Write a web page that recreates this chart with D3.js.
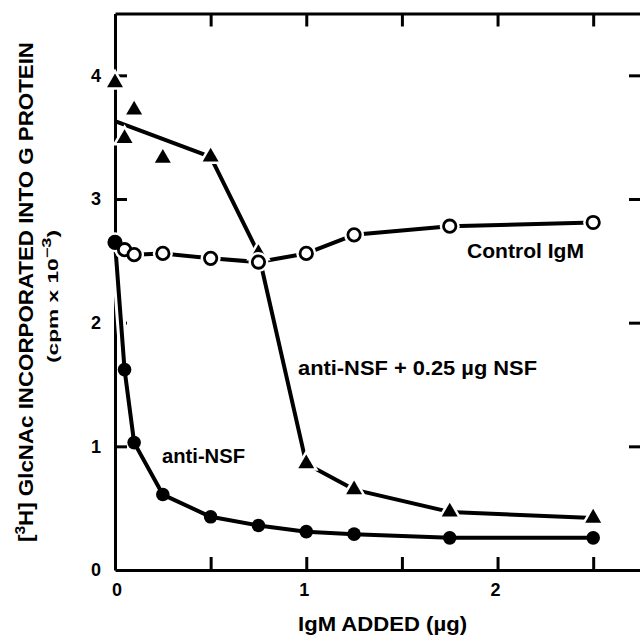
<!DOCTYPE html>
<html>
<head>
<meta charset="utf-8">
<script src="https://cdn.jsdelivr.net/npm/d3@7"></script>
<style>
  body { margin: 0; background: #fff; }
  svg { display: block; }
  text { font-family: "Liberation Sans", Arial, Helvetica, sans-serif; font-weight: bold; fill: #000; }
</style>
</head>
<body>
<div id="chart"></div>
<script>
// IgM added (ug)
const doses = [0, 0.05, 0.1, 0.25, 0.5, 0.75, 1, 1.25, 1.75, 2.5]
// [3H] GlcNAc incorporated, cpm x 10^-3
const controlIgM = [2.65, 2.59, 2.55, 2.56, 2.52, 2.49, 2.56, 2.71, 2.78, 2.81]
const antiNSF = [2.65, 1.62, 1.03, 0.61, 0.43, 0.36, 0.31, 0.29, 0.26, 0.26]
const antiNSFplusNSF = [3.94, 3.49, 3.72, 3.33, 3.34, 2.56, 0.86, 0.65, 0.47, 0.42]
// drawn curve for anti-NSF + NSF (starts at a fitted value at 0)
const nsfCurveDoses = [0, 0.5, 0.75, 1, 1.25, 1.75, 2.5]
const nsfCurve = [3.63, 3.34, 2.56, 0.86, 0.65, 0.47, 0.42]

const xTicks = [0.5, 1, 1.5, 2, 2.5]
const xLabels = [0, 1, 2]
const yTicks = [1, 2, 3, 4]
const yLabels = [0, 1, 2, 3, 4]

const W = 640, H = 638

const svg = d3.select('#chart').append('svg')
  .attr('width', W)
  .attr('height', H)

const x = d3.scaleLinear().domain([0, 2.75]).range([115, 641])
const y = d3.scaleLinear().domain([0, 4.5]).range([570, 13.5])

function styleAxis (g) {
  g.selectAll('path, line').attr('stroke', '#000').attr('stroke-width', 3)
  g.selectAll('text').remove()
}

// frame with inward ticks
svg.append('g').attr('transform', 'translate(0,' + y(0) + ')')
  .call(d3.axisBottom(x).tickValues(xTicks).tickSize(-13).tickSizeOuter(0))
  .call(styleAxis)
svg.append('g').attr('transform', 'translate(0,' + y(4.5) + ')')
  .call(d3.axisTop(x).tickValues(xTicks).tickSize(-13).tickSizeOuter(0))
  .call(styleAxis)
svg.append('g').attr('transform', 'translate(' + x(0) + ',0)')
  .call(d3.axisLeft(y).tickValues(yTicks).tickSize(-12).tickSizeOuter(0))
  .call(styleAxis)
svg.append('g').attr('transform', 'translate(' + x(2.75) + ',0)')
  .call(d3.axisRight(y).tickValues(yTicks).tickSize(-12).tickSizeOuter(0))
  .call(styleAxis)

// tick labels
svg.append('g').selectAll('text')
  .data(yLabels).enter().append('text')
  .attr('x', 101)
  .attr('y', d => y(d))
  .attr('dy', '0.36em')
  .attr('text-anchor', 'end')
  .style('font-size', '18px')
  .text(d => d)

svg.append('g').selectAll('text')
  .data(xLabels).enter().append('text')
  .attr('x', d => x(d) + (d === 0 ? 2 : -2))
  .attr('y', 596)
  .attr('text-anchor', 'middle')
  .style('font-size', '18px')
  .text(d => d)

// axis titles
svg.append('text')
  .attr('x', 298)
  .attr('y', 631)
  .attr('textLength', 169)
  .attr('lengthAdjust', 'spacingAndGlyphs')
  .style('font-size', '20px')
  .text('IgM ADDED (\u00b5g)')

const yt = svg.append('text')
  .attr('transform', 'translate(33,542) rotate(-90)')
  .attr('textLength', 500)
  .attr('lengthAdjust', 'spacingAndGlyphs')
  .style('font-size', '20px')
yt.append('tspan').text('[')
yt.append('tspan').attr('dy', -8).style('font-size', '14px').text('3')
yt.append('tspan').attr('dy', 8).text('H] GlcNAc INCORPORATED INTO G PROTEIN')

const yt2 = svg.append('text')
  .attr('transform', 'translate(58,363) rotate(-90)')
  .attr('textLength', 133)
  .attr('lengthAdjust', 'spacingAndGlyphs')
  .style('font-size', '15px')
yt2.append('tspan').text('(cpm x 10')
yt2.append('tspan').attr('dy', -7).style('font-size', '12px').text('\u22123')
yt2.append('tspan').attr('dy', 7).text(')')

// lines
const line = d3.line().x(d => x(d[0])).y(d => y(d[1]))
const ctrlPts = doses.map((d, i) => [d, controlIgM[i]])
const antiPts = doses.map((d, i) => [d, antiNSF[i]])
const nsfPts = doses.map((d, i) => [d, antiNSFplusNSF[i]])
const nsfCurvePts = nsfCurveDoses.map((d, i) => [d, nsfCurve[i]])

// white halos knock gaps into the frame where curves cross it
;[ctrlPts, antiPts].forEach(pts => {
  svg.append('path').datum(pts)
    .attr('d', line).attr('fill', 'none')
    .attr('stroke', '#fff').attr('stroke-width', 10)
})

;[nsfCurvePts, antiPts, ctrlPts].forEach(pts => {
  svg.append('path').datum(pts)
    .attr('d', line).attr('fill', 'none')
    .attr('stroke', '#000').attr('stroke-width', 4)
    .attr('stroke-linejoin', 'round')
})

// triangles
const tri = d3.symbol().type(d3.symbolTriangle).size(110)
svg.append('g').selectAll('path')
  .data(nsfPts).enter().append('path')
  .attr('transform', d => 'translate(' + x(d[0]) + ',' + y(d[1]) + ')')
  .attr('d', tri)
  .attr('fill', '#000')
  .attr('stroke', '#fff').attr('stroke-width', 5)
  .attr('paint-order', 'stroke')

// open circles (control IgM)
svg.append('g').selectAll('circle.halo')
  .data(ctrlPts).enter().append('circle')
  .attr('cx', d => x(d[0])).attr('cy', d => y(d[1]))
  .attr('r', 10).attr('fill', '#fff')
svg.append('g').selectAll('circle')
  .data(ctrlPts).enter().append('circle')
  .attr('cx', d => x(d[0])).attr('cy', d => y(d[1]))
  .attr('r', 6.2).attr('fill', '#fff')
  .attr('stroke', '#000').attr('stroke-width', 2.8)

// filled circles (anti-NSF)
svg.append('g').selectAll('circle')
  .data(antiPts).enter().append('circle')
  .attr('cx', d => x(d[0])).attr('cy', d => y(d[1]))
  .attr('r', 6.8).attr('fill', '#000')

// curve labels
svg.append('text').attr('x', 467).attr('y', 258)
  .attr('textLength', 117).attr('lengthAdjust', 'spacingAndGlyphs')
  .style('font-size', '20px').text('Control IgM')
svg.append('text').attr('x', 298).attr('y', 375)
  .attr('textLength', 239).attr('lengthAdjust', 'spacingAndGlyphs')
  .style('font-size', '20px').text('anti-NSF + 0.25 \u00b5g NSF')
svg.append('text').attr('x', 162).attr('y', 463)
  .attr('textLength', 83).attr('lengthAdjust', 'spacingAndGlyphs')
  .style('font-size', '20px').text('anti-NSF')
</script>
</body>
</html>
